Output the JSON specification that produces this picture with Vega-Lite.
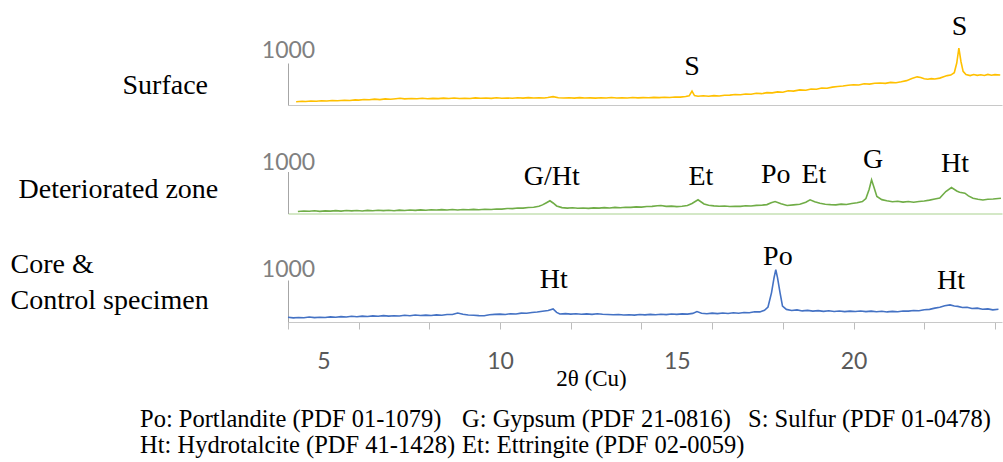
{
  "$schema": "https://vega.github.io/schema/vega-lite/v6.json",
  "background": "white",
  "padding": {"left": 10, "top": 12, "right": 0, "bottom": 0},
  "spacing": 66.5,
  "bounds": "flush",
  "config": {
    "view": {"stroke": null},
    "axis": {"grid": false, "labelFlush": false, "labelOverlap": false}
  },
  "datasets": {
    "xrd": [
      {"sample": "Surface", "two_theta": 4.23, "intensity": 79},
      {"sample": "Surface", "two_theta": 4.4, "intensity": 90},
      {"sample": "Surface", "two_theta": 4.5, "intensity": 84},
      {"sample": "Surface", "two_theta": 4.65, "intensity": 95},
      {"sample": "Surface", "two_theta": 4.8, "intensity": 90},
      {"sample": "Surface", "two_theta": 4.95, "intensity": 102},
      {"sample": "Surface", "two_theta": 5.1, "intensity": 96},
      {"sample": "Surface", "two_theta": 5.25, "intensity": 108},
      {"sample": "Surface", "two_theta": 5.4, "intensity": 100},
      {"sample": "Surface", "two_theta": 5.6, "intensity": 114},
      {"sample": "Surface", "two_theta": 5.75, "intensity": 108},
      {"sample": "Surface", "two_theta": 5.9, "intensity": 122},
      {"sample": "Surface", "two_theta": 6.0, "intensity": 116},
      {"sample": "Surface", "two_theta": 6.15, "intensity": 130},
      {"sample": "Surface", "two_theta": 6.3, "intensity": 124},
      {"sample": "Surface", "two_theta": 6.45, "intensity": 140},
      {"sample": "Surface", "two_theta": 6.6, "intensity": 129},
      {"sample": "Surface", "two_theta": 6.75, "intensity": 145},
      {"sample": "Surface", "two_theta": 6.9, "intensity": 138},
      {"sample": "Surface", "two_theta": 7.05, "intensity": 150},
      {"sample": "Surface", "two_theta": 7.17, "intensity": 160},
      {"sample": "Surface", "two_theta": 7.3, "intensity": 146},
      {"sample": "Surface", "two_theta": 7.5, "intensity": 155},
      {"sample": "Surface", "two_theta": 7.65, "intensity": 148},
      {"sample": "Surface", "two_theta": 7.8, "intensity": 160},
      {"sample": "Surface", "two_theta": 7.95, "intensity": 150},
      {"sample": "Surface", "two_theta": 8.1, "intensity": 158},
      {"sample": "Surface", "two_theta": 8.25, "intensity": 152},
      {"sample": "Surface", "two_theta": 8.4, "intensity": 164},
      {"sample": "Surface", "two_theta": 8.55, "intensity": 156},
      {"sample": "Surface", "two_theta": 8.7, "intensity": 168},
      {"sample": "Surface", "two_theta": 8.85, "intensity": 155},
      {"sample": "Surface", "two_theta": 9.0, "intensity": 162},
      {"sample": "Surface", "two_theta": 9.15, "intensity": 156},
      {"sample": "Surface", "two_theta": 9.3, "intensity": 170},
      {"sample": "Surface", "two_theta": 9.45, "intensity": 160},
      {"sample": "Surface", "two_theta": 9.6, "intensity": 166},
      {"sample": "Surface", "two_theta": 9.75, "intensity": 158},
      {"sample": "Surface", "two_theta": 9.9, "intensity": 172},
      {"sample": "Surface", "two_theta": 10.05, "intensity": 162},
      {"sample": "Surface", "two_theta": 10.2, "intensity": 168},
      {"sample": "Surface", "two_theta": 10.35, "intensity": 160},
      {"sample": "Surface", "two_theta": 10.5, "intensity": 172},
      {"sample": "Surface", "two_theta": 10.65, "intensity": 164},
      {"sample": "Surface", "two_theta": 10.8, "intensity": 175},
      {"sample": "Surface", "two_theta": 10.95, "intensity": 166},
      {"sample": "Surface", "two_theta": 11.1, "intensity": 172},
      {"sample": "Surface", "two_theta": 11.25, "intensity": 168},
      {"sample": "Surface", "two_theta": 11.35, "intensity": 178},
      {"sample": "Surface", "two_theta": 11.5, "intensity": 198},
      {"sample": "Surface", "two_theta": 11.65, "intensity": 174},
      {"sample": "Surface", "two_theta": 11.8, "intensity": 165},
      {"sample": "Surface", "two_theta": 11.95, "intensity": 172},
      {"sample": "Surface", "two_theta": 12.1, "intensity": 164},
      {"sample": "Surface", "two_theta": 12.25, "intensity": 175},
      {"sample": "Surface", "two_theta": 12.4, "intensity": 165},
      {"sample": "Surface", "two_theta": 12.55, "intensity": 170},
      {"sample": "Surface", "two_theta": 12.7, "intensity": 163},
      {"sample": "Surface", "two_theta": 12.85, "intensity": 172},
      {"sample": "Surface", "two_theta": 13.0, "intensity": 168},
      {"sample": "Surface", "two_theta": 13.15, "intensity": 178},
      {"sample": "Surface", "two_theta": 13.3, "intensity": 168},
      {"sample": "Surface", "two_theta": 13.45, "intensity": 174},
      {"sample": "Surface", "two_theta": 13.6, "intensity": 166},
      {"sample": "Surface", "two_theta": 13.75, "intensity": 178},
      {"sample": "Surface", "two_theta": 13.9, "intensity": 170},
      {"sample": "Surface", "two_theta": 14.05, "intensity": 176},
      {"sample": "Surface", "two_theta": 14.2, "intensity": 172},
      {"sample": "Surface", "two_theta": 14.35, "intensity": 182},
      {"sample": "Surface", "two_theta": 14.5, "intensity": 176},
      {"sample": "Surface", "two_theta": 14.65, "intensity": 186},
      {"sample": "Surface", "two_theta": 14.8, "intensity": 180},
      {"sample": "Surface", "two_theta": 14.95, "intensity": 192},
      {"sample": "Surface", "two_theta": 15.1, "intensity": 188},
      {"sample": "Surface", "two_theta": 15.25, "intensity": 204},
      {"sample": "Surface", "two_theta": 15.35, "intensity": 218},
      {"sample": "Surface", "two_theta": 15.43, "intensity": 330},
      {"sample": "Surface", "two_theta": 15.5, "intensity": 225},
      {"sample": "Surface", "two_theta": 15.6, "intensity": 210},
      {"sample": "Surface", "two_theta": 15.75, "intensity": 220},
      {"sample": "Surface", "two_theta": 15.9, "intensity": 210},
      {"sample": "Surface", "two_theta": 16.05, "intensity": 222},
      {"sample": "Surface", "two_theta": 16.2, "intensity": 215},
      {"sample": "Surface", "two_theta": 16.35, "intensity": 232},
      {"sample": "Surface", "two_theta": 16.5, "intensity": 236},
      {"sample": "Surface", "two_theta": 16.65, "intensity": 250},
      {"sample": "Surface", "two_theta": 16.8, "intensity": 244},
      {"sample": "Surface", "two_theta": 16.95, "intensity": 262},
      {"sample": "Surface", "two_theta": 17.1, "intensity": 256},
      {"sample": "Surface", "two_theta": 17.25, "intensity": 278},
      {"sample": "Surface", "two_theta": 17.4, "intensity": 270},
      {"sample": "Surface", "two_theta": 17.55, "intensity": 295},
      {"sample": "Surface", "two_theta": 17.7, "intensity": 288},
      {"sample": "Surface", "two_theta": 17.85, "intensity": 312},
      {"sample": "Surface", "two_theta": 18.0, "intensity": 305},
      {"sample": "Surface", "two_theta": 18.15, "intensity": 338},
      {"sample": "Surface", "two_theta": 18.3, "intensity": 330},
      {"sample": "Surface", "two_theta": 18.48, "intensity": 360},
      {"sample": "Surface", "two_theta": 18.65, "intensity": 352},
      {"sample": "Surface", "two_theta": 18.8, "intensity": 382},
      {"sample": "Surface", "two_theta": 18.95, "intensity": 375},
      {"sample": "Surface", "two_theta": 19.1, "intensity": 405},
      {"sample": "Surface", "two_theta": 19.25, "intensity": 398},
      {"sample": "Surface", "two_theta": 19.4, "intensity": 425},
      {"sample": "Surface", "two_theta": 19.55, "intensity": 440},
      {"sample": "Surface", "two_theta": 19.7, "intensity": 452},
      {"sample": "Surface", "two_theta": 19.85, "intensity": 470},
      {"sample": "Surface", "two_theta": 20.0, "intensity": 482},
      {"sample": "Surface", "two_theta": 20.15, "intensity": 476},
      {"sample": "Surface", "two_theta": 20.3, "intensity": 505},
      {"sample": "Surface", "two_theta": 20.45, "intensity": 498},
      {"sample": "Surface", "two_theta": 20.6, "intensity": 518},
      {"sample": "Surface", "two_theta": 20.75, "intensity": 524},
      {"sample": "Surface", "two_theta": 20.9, "intensity": 516},
      {"sample": "Surface", "two_theta": 21.05, "intensity": 538},
      {"sample": "Surface", "two_theta": 21.2, "intensity": 530},
      {"sample": "Surface", "two_theta": 21.35, "intensity": 552},
      {"sample": "Surface", "two_theta": 21.5, "intensity": 580},
      {"sample": "Surface", "two_theta": 21.65, "intensity": 630},
      {"sample": "Surface", "two_theta": 21.8, "intensity": 670},
      {"sample": "Surface", "two_theta": 21.9, "intensity": 655},
      {"sample": "Surface", "two_theta": 22.0, "intensity": 625},
      {"sample": "Surface", "two_theta": 22.1, "intensity": 612},
      {"sample": "Surface", "two_theta": 22.2, "intensity": 628},
      {"sample": "Surface", "two_theta": 22.3, "intensity": 618},
      {"sample": "Surface", "two_theta": 22.44, "intensity": 640},
      {"sample": "Surface", "two_theta": 22.55, "intensity": 675},
      {"sample": "Surface", "two_theta": 22.65, "intensity": 700},
      {"sample": "Surface", "two_theta": 22.75, "intensity": 712},
      {"sample": "Surface", "two_theta": 22.85, "intensity": 770},
      {"sample": "Surface", "two_theta": 22.92, "intensity": 1000},
      {"sample": "Surface", "two_theta": 22.98, "intensity": 1357},
      {"sample": "Surface", "two_theta": 23.04, "intensity": 1030},
      {"sample": "Surface", "two_theta": 23.1, "intensity": 800},
      {"sample": "Surface", "two_theta": 23.18, "intensity": 728},
      {"sample": "Surface", "two_theta": 23.3, "intensity": 700},
      {"sample": "Surface", "two_theta": 23.4, "intensity": 725},
      {"sample": "Surface", "two_theta": 23.5, "intensity": 705},
      {"sample": "Surface", "two_theta": 23.6, "intensity": 720},
      {"sample": "Surface", "two_theta": 23.7, "intensity": 702},
      {"sample": "Surface", "two_theta": 23.8, "intensity": 728},
      {"sample": "Surface", "two_theta": 23.9, "intensity": 708},
      {"sample": "Surface", "two_theta": 24.0, "intensity": 722},
      {"sample": "Surface", "two_theta": 24.15, "intensity": 714},

      {"sample": "Deteriorated", "two_theta": 4.28, "intensity": 48},
      {"sample": "Deteriorated", "two_theta": 4.45, "intensity": 60},
      {"sample": "Deteriorated", "two_theta": 4.6, "intensity": 52},
      {"sample": "Deteriorated", "two_theta": 4.75, "intensity": 64},
      {"sample": "Deteriorated", "two_theta": 4.9, "intensity": 50},
      {"sample": "Deteriorated", "two_theta": 5.05, "intensity": 62},
      {"sample": "Deteriorated", "two_theta": 5.2, "intensity": 56},
      {"sample": "Deteriorated", "two_theta": 5.35, "intensity": 68},
      {"sample": "Deteriorated", "two_theta": 5.5, "intensity": 56},
      {"sample": "Deteriorated", "two_theta": 5.65, "intensity": 70},
      {"sample": "Deteriorated", "two_theta": 5.8, "intensity": 62},
      {"sample": "Deteriorated", "two_theta": 5.95, "intensity": 72},
      {"sample": "Deteriorated", "two_theta": 6.1, "intensity": 60},
      {"sample": "Deteriorated", "two_theta": 6.25, "intensity": 74},
      {"sample": "Deteriorated", "two_theta": 6.4, "intensity": 66},
      {"sample": "Deteriorated", "two_theta": 6.55, "intensity": 78},
      {"sample": "Deteriorated", "two_theta": 6.7, "intensity": 68},
      {"sample": "Deteriorated", "two_theta": 6.85, "intensity": 76},
      {"sample": "Deteriorated", "two_theta": 7.0, "intensity": 66},
      {"sample": "Deteriorated", "two_theta": 7.15, "intensity": 80},
      {"sample": "Deteriorated", "two_theta": 7.3, "intensity": 72},
      {"sample": "Deteriorated", "two_theta": 7.45, "intensity": 84},
      {"sample": "Deteriorated", "two_theta": 7.6, "intensity": 75},
      {"sample": "Deteriorated", "two_theta": 7.75, "intensity": 86},
      {"sample": "Deteriorated", "two_theta": 7.9, "intensity": 78},
      {"sample": "Deteriorated", "two_theta": 8.05, "intensity": 90},
      {"sample": "Deteriorated", "two_theta": 8.2, "intensity": 82},
      {"sample": "Deteriorated", "two_theta": 8.35, "intensity": 92},
      {"sample": "Deteriorated", "two_theta": 8.5, "intensity": 84},
      {"sample": "Deteriorated", "two_theta": 8.65, "intensity": 95},
      {"sample": "Deteriorated", "two_theta": 8.8, "intensity": 84},
      {"sample": "Deteriorated", "two_theta": 8.95, "intensity": 96},
      {"sample": "Deteriorated", "two_theta": 9.1, "intensity": 88},
      {"sample": "Deteriorated", "two_theta": 9.25, "intensity": 98},
      {"sample": "Deteriorated", "two_theta": 9.4, "intensity": 90},
      {"sample": "Deteriorated", "two_theta": 9.57, "intensity": 100},
      {"sample": "Deteriorated", "two_theta": 9.75, "intensity": 96},
      {"sample": "Deteriorated", "two_theta": 9.9, "intensity": 108},
      {"sample": "Deteriorated", "two_theta": 10.05, "intensity": 104},
      {"sample": "Deteriorated", "two_theta": 10.2, "intensity": 120},
      {"sample": "Deteriorated", "two_theta": 10.35, "intensity": 116},
      {"sample": "Deteriorated", "two_theta": 10.5, "intensity": 132},
      {"sample": "Deteriorated", "two_theta": 10.65, "intensity": 128},
      {"sample": "Deteriorated", "two_theta": 10.8, "intensity": 142},
      {"sample": "Deteriorated", "two_theta": 10.95, "intensity": 150},
      {"sample": "Deteriorated", "two_theta": 11.1, "intensity": 172},
      {"sample": "Deteriorated", "two_theta": 11.2, "intensity": 205},
      {"sample": "Deteriorated", "two_theta": 11.3, "intensity": 250},
      {"sample": "Deteriorated", "two_theta": 11.41, "intensity": 302},
      {"sample": "Deteriorated", "two_theta": 11.5, "intensity": 250},
      {"sample": "Deteriorated", "two_theta": 11.6, "intensity": 180},
      {"sample": "Deteriorated", "two_theta": 11.75, "intensity": 140},
      {"sample": "Deteriorated", "two_theta": 11.9, "intensity": 128},
      {"sample": "Deteriorated", "two_theta": 12.05, "intensity": 138},
      {"sample": "Deteriorated", "two_theta": 12.2, "intensity": 124},
      {"sample": "Deteriorated", "two_theta": 12.35, "intensity": 132},
      {"sample": "Deteriorated", "two_theta": 12.5, "intensity": 122},
      {"sample": "Deteriorated", "two_theta": 12.65, "intensity": 135},
      {"sample": "Deteriorated", "two_theta": 12.8, "intensity": 128},
      {"sample": "Deteriorated", "two_theta": 12.95, "intensity": 140},
      {"sample": "Deteriorated", "two_theta": 13.1, "intensity": 132},
      {"sample": "Deteriorated", "two_theta": 13.25, "intensity": 145},
      {"sample": "Deteriorated", "two_theta": 13.4, "intensity": 138},
      {"sample": "Deteriorated", "two_theta": 13.55, "intensity": 150},
      {"sample": "Deteriorated", "two_theta": 13.7, "intensity": 145},
      {"sample": "Deteriorated", "two_theta": 13.85, "intensity": 158},
      {"sample": "Deteriorated", "two_theta": 14.0, "intensity": 152},
      {"sample": "Deteriorated", "two_theta": 14.15, "intensity": 165},
      {"sample": "Deteriorated", "two_theta": 14.3, "intensity": 170},
      {"sample": "Deteriorated", "two_theta": 14.45, "intensity": 185},
      {"sample": "Deteriorated", "two_theta": 14.55, "intensity": 192},
      {"sample": "Deteriorated", "two_theta": 14.7, "intensity": 170},
      {"sample": "Deteriorated", "two_theta": 14.85, "intensity": 176},
      {"sample": "Deteriorated", "two_theta": 15.0, "intensity": 164},
      {"sample": "Deteriorated", "two_theta": 15.15, "intensity": 172},
      {"sample": "Deteriorated", "two_theta": 15.3, "intensity": 190},
      {"sample": "Deteriorated", "two_theta": 15.43, "intensity": 238},
      {"sample": "Deteriorated", "two_theta": 15.6, "intensity": 326},
      {"sample": "Deteriorated", "two_theta": 15.77, "intensity": 226},
      {"sample": "Deteriorated", "two_theta": 15.9, "intensity": 195},
      {"sample": "Deteriorated", "two_theta": 16.05, "intensity": 182},
      {"sample": "Deteriorated", "two_theta": 16.2, "intensity": 174},
      {"sample": "Deteriorated", "two_theta": 16.35, "intensity": 180},
      {"sample": "Deteriorated", "two_theta": 16.5, "intensity": 166},
      {"sample": "Deteriorated", "two_theta": 16.65, "intensity": 174},
      {"sample": "Deteriorated", "two_theta": 16.8, "intensity": 170},
      {"sample": "Deteriorated", "two_theta": 16.95, "intensity": 184},
      {"sample": "Deteriorated", "two_theta": 17.1, "intensity": 180},
      {"sample": "Deteriorated", "two_theta": 17.25, "intensity": 194},
      {"sample": "Deteriorated", "two_theta": 17.4, "intensity": 198},
      {"sample": "Deteriorated", "two_theta": 17.55, "intensity": 212},
      {"sample": "Deteriorated", "two_theta": 17.67, "intensity": 255},
      {"sample": "Deteriorated", "two_theta": 17.78, "intensity": 286},
      {"sample": "Deteriorated", "two_theta": 17.95, "intensity": 232},
      {"sample": "Deteriorated", "two_theta": 18.12, "intensity": 190},
      {"sample": "Deteriorated", "two_theta": 18.3, "intensity": 205},
      {"sample": "Deteriorated", "two_theta": 18.48, "intensity": 222},
      {"sample": "Deteriorated", "two_theta": 18.65, "intensity": 270},
      {"sample": "Deteriorated", "two_theta": 18.77, "intensity": 326},
      {"sample": "Deteriorated", "two_theta": 18.9, "intensity": 282},
      {"sample": "Deteriorated", "two_theta": 19.05, "intensity": 245},
      {"sample": "Deteriorated", "two_theta": 19.2, "intensity": 222},
      {"sample": "Deteriorated", "two_theta": 19.35, "intensity": 212},
      {"sample": "Deteriorated", "two_theta": 19.5, "intensity": 205},
      {"sample": "Deteriorated", "two_theta": 19.65, "intensity": 222},
      {"sample": "Deteriorated", "two_theta": 19.8, "intensity": 215},
      {"sample": "Deteriorated", "two_theta": 19.95, "intensity": 240},
      {"sample": "Deteriorated", "two_theta": 20.1, "intensity": 255},
      {"sample": "Deteriorated", "two_theta": 20.25, "intensity": 285},
      {"sample": "Deteriorated", "two_theta": 20.35, "intensity": 357},
      {"sample": "Deteriorated", "two_theta": 20.44, "intensity": 571},
      {"sample": "Deteriorated", "two_theta": 20.51, "intensity": 802},
      {"sample": "Deteriorated", "two_theta": 20.58, "intensity": 619},
      {"sample": "Deteriorated", "two_theta": 20.66, "intensity": 405},
      {"sample": "Deteriorated", "two_theta": 20.8, "intensity": 330},
      {"sample": "Deteriorated", "two_theta": 20.94, "intensity": 302},
      {"sample": "Deteriorated", "two_theta": 21.1, "intensity": 280},
      {"sample": "Deteriorated", "two_theta": 21.25, "intensity": 292},
      {"sample": "Deteriorated", "two_theta": 21.4, "intensity": 272},
      {"sample": "Deteriorated", "two_theta": 21.55, "intensity": 286},
      {"sample": "Deteriorated", "two_theta": 21.7, "intensity": 268},
      {"sample": "Deteriorated", "two_theta": 21.85, "intensity": 284},
      {"sample": "Deteriorated", "two_theta": 22.0, "intensity": 296},
      {"sample": "Deteriorated", "two_theta": 22.15, "intensity": 318},
      {"sample": "Deteriorated", "two_theta": 22.3, "intensity": 345},
      {"sample": "Deteriorated", "two_theta": 22.44, "intensity": 370},
      {"sample": "Deteriorated", "two_theta": 22.61, "intensity": 524},
      {"sample": "Deteriorated", "two_theta": 22.77, "intensity": 619},
      {"sample": "Deteriorated", "two_theta": 22.92, "intensity": 536},
      {"sample": "Deteriorated", "two_theta": 23.0, "intensity": 507},
      {"sample": "Deteriorated", "two_theta": 23.15, "intensity": 483},
      {"sample": "Deteriorated", "two_theta": 23.25, "intensity": 420},
      {"sample": "Deteriorated", "two_theta": 23.38, "intensity": 364},
      {"sample": "Deteriorated", "two_theta": 23.52, "intensity": 340},
      {"sample": "Deteriorated", "two_theta": 23.66, "intensity": 322},
      {"sample": "Deteriorated", "two_theta": 23.8, "intensity": 338},
      {"sample": "Deteriorated", "two_theta": 23.95, "intensity": 346},
      {"sample": "Deteriorated", "two_theta": 24.17, "intensity": 364},

      {"sample": "Core", "two_theta": 4.0, "intensity": 112},
      {"sample": "Core", "two_theta": 4.15, "intensity": 98},
      {"sample": "Core", "two_theta": 4.3, "intensity": 108},
      {"sample": "Core", "two_theta": 4.45, "intensity": 100},
      {"sample": "Core", "two_theta": 4.6, "intensity": 118},
      {"sample": "Core", "two_theta": 4.75, "intensity": 104},
      {"sample": "Core", "two_theta": 4.9, "intensity": 114},
      {"sample": "Core", "two_theta": 5.05, "intensity": 108},
      {"sample": "Core", "two_theta": 5.2, "intensity": 122},
      {"sample": "Core", "two_theta": 5.35, "intensity": 112},
      {"sample": "Core", "two_theta": 5.5, "intensity": 128},
      {"sample": "Core", "two_theta": 5.65, "intensity": 118},
      {"sample": "Core", "two_theta": 5.8, "intensity": 138},
      {"sample": "Core", "two_theta": 5.95, "intensity": 126},
      {"sample": "Core", "two_theta": 6.1, "intensity": 140},
      {"sample": "Core", "two_theta": 6.25, "intensity": 132},
      {"sample": "Core", "two_theta": 6.4, "intensity": 146},
      {"sample": "Core", "two_theta": 6.55, "intensity": 138},
      {"sample": "Core", "two_theta": 6.7, "intensity": 152},
      {"sample": "Core", "two_theta": 6.85, "intensity": 140},
      {"sample": "Core", "two_theta": 7.0, "intensity": 150},
      {"sample": "Core", "two_theta": 7.15, "intensity": 144},
      {"sample": "Core", "two_theta": 7.3, "intensity": 160},
      {"sample": "Core", "two_theta": 7.45, "intensity": 150},
      {"sample": "Core", "two_theta": 7.6, "intensity": 168},
      {"sample": "Core", "two_theta": 7.75, "intensity": 156},
      {"sample": "Core", "two_theta": 7.9, "intensity": 164},
      {"sample": "Core", "two_theta": 8.05, "intensity": 155},
      {"sample": "Core", "two_theta": 8.2, "intensity": 170},
      {"sample": "Core", "two_theta": 8.35, "intensity": 162},
      {"sample": "Core", "two_theta": 8.5, "intensity": 178},
      {"sample": "Core", "two_theta": 8.65, "intensity": 180},
      {"sample": "Core", "two_theta": 8.8, "intensity": 214},
      {"sample": "Core", "two_theta": 8.95, "intensity": 185},
      {"sample": "Core", "two_theta": 9.1, "intensity": 168},
      {"sample": "Core", "two_theta": 9.25, "intensity": 160},
      {"sample": "Core", "two_theta": 9.4, "intensity": 152},
      {"sample": "Core", "two_theta": 9.55, "intensity": 148},
      {"sample": "Core", "two_theta": 9.7, "intensity": 172},
      {"sample": "Core", "two_theta": 9.85, "intensity": 182},
      {"sample": "Core", "two_theta": 10.0, "intensity": 188},
      {"sample": "Core", "two_theta": 10.15, "intensity": 180},
      {"sample": "Core", "two_theta": 10.3, "intensity": 198},
      {"sample": "Core", "two_theta": 10.45, "intensity": 192},
      {"sample": "Core", "two_theta": 10.6, "intensity": 212},
      {"sample": "Core", "two_theta": 10.75, "intensity": 208},
      {"sample": "Core", "two_theta": 10.9, "intensity": 228},
      {"sample": "Core", "two_theta": 11.05, "intensity": 238},
      {"sample": "Core", "two_theta": 11.2, "intensity": 255},
      {"sample": "Core", "two_theta": 11.36, "intensity": 274},
      {"sample": "Core", "two_theta": 11.5, "intensity": 312},
      {"sample": "Core", "two_theta": 11.6, "intensity": 230},
      {"sample": "Core", "two_theta": 11.69, "intensity": 190},
      {"sample": "Core", "two_theta": 11.85, "intensity": 200},
      {"sample": "Core", "two_theta": 12.0, "intensity": 188},
      {"sample": "Core", "two_theta": 12.15, "intensity": 198},
      {"sample": "Core", "two_theta": 12.3, "intensity": 186},
      {"sample": "Core", "two_theta": 12.45, "intensity": 194},
      {"sample": "Core", "two_theta": 12.6, "intensity": 182},
      {"sample": "Core", "two_theta": 12.75, "intensity": 195},
      {"sample": "Core", "two_theta": 12.9, "intensity": 186},
      {"sample": "Core", "two_theta": 13.05, "intensity": 180},
      {"sample": "Core", "two_theta": 13.2, "intensity": 172},
      {"sample": "Core", "two_theta": 13.35, "intensity": 180},
      {"sample": "Core", "two_theta": 13.5, "intensity": 166},
      {"sample": "Core", "two_theta": 13.65, "intensity": 174},
      {"sample": "Core", "two_theta": 13.8, "intensity": 164},
      {"sample": "Core", "two_theta": 13.95, "intensity": 178},
      {"sample": "Core", "two_theta": 14.1, "intensity": 170},
      {"sample": "Core", "two_theta": 14.25, "intensity": 182},
      {"sample": "Core", "two_theta": 14.4, "intensity": 174},
      {"sample": "Core", "two_theta": 14.55, "intensity": 186},
      {"sample": "Core", "two_theta": 14.7, "intensity": 176},
      {"sample": "Core", "two_theta": 14.85, "intensity": 190},
      {"sample": "Core", "two_theta": 15.0, "intensity": 182},
      {"sample": "Core", "two_theta": 15.15, "intensity": 194},
      {"sample": "Core", "two_theta": 15.3, "intensity": 188},
      {"sample": "Core", "two_theta": 15.45, "intensity": 205},
      {"sample": "Core", "two_theta": 15.57, "intensity": 248},
      {"sample": "Core", "two_theta": 15.7, "intensity": 210},
      {"sample": "Core", "two_theta": 15.85, "intensity": 196},
      {"sample": "Core", "two_theta": 16.0, "intensity": 212},
      {"sample": "Core", "two_theta": 16.15, "intensity": 200},
      {"sample": "Core", "two_theta": 16.3, "intensity": 214},
      {"sample": "Core", "two_theta": 16.45, "intensity": 204},
      {"sample": "Core", "two_theta": 16.6, "intensity": 220},
      {"sample": "Core", "two_theta": 16.75, "intensity": 210},
      {"sample": "Core", "two_theta": 16.9, "intensity": 226},
      {"sample": "Core", "two_theta": 17.05, "intensity": 220},
      {"sample": "Core", "two_theta": 17.2, "intensity": 245},
      {"sample": "Core", "two_theta": 17.35, "intensity": 240},
      {"sample": "Core", "two_theta": 17.48, "intensity": 280},
      {"sample": "Core", "two_theta": 17.58, "intensity": 357},
      {"sample": "Core", "two_theta": 17.68, "intensity": 700},
      {"sample": "Core", "two_theta": 17.75, "intensity": 1050},
      {"sample": "Core", "two_theta": 17.8, "intensity": 1245},
      {"sample": "Core", "two_theta": 17.85, "intensity": 1050},
      {"sample": "Core", "two_theta": 17.92, "intensity": 700},
      {"sample": "Core", "two_theta": 17.99, "intensity": 380},
      {"sample": "Core", "two_theta": 18.1, "intensity": 300},
      {"sample": "Core", "two_theta": 18.25, "intensity": 275},
      {"sample": "Core", "two_theta": 18.4, "intensity": 288},
      {"sample": "Core", "two_theta": 18.55, "intensity": 264},
      {"sample": "Core", "two_theta": 18.7, "intensity": 276},
      {"sample": "Core", "two_theta": 18.85, "intensity": 258},
      {"sample": "Core", "two_theta": 19.0, "intensity": 270},
      {"sample": "Core", "two_theta": 19.15, "intensity": 254},
      {"sample": "Core", "two_theta": 19.3, "intensity": 266},
      {"sample": "Core", "two_theta": 19.45, "intensity": 250},
      {"sample": "Core", "two_theta": 19.6, "intensity": 262},
      {"sample": "Core", "two_theta": 19.75, "intensity": 248},
      {"sample": "Core", "two_theta": 19.9, "intensity": 260},
      {"sample": "Core", "two_theta": 20.05, "intensity": 250},
      {"sample": "Core", "two_theta": 20.2, "intensity": 262},
      {"sample": "Core", "two_theta": 20.35, "intensity": 246},
      {"sample": "Core", "two_theta": 20.5, "intensity": 258},
      {"sample": "Core", "two_theta": 20.65, "intensity": 244},
      {"sample": "Core", "two_theta": 20.8, "intensity": 256},
      {"sample": "Core", "two_theta": 20.95, "intensity": 240},
      {"sample": "Core", "two_theta": 21.1, "intensity": 252},
      {"sample": "Core", "two_theta": 21.25, "intensity": 244},
      {"sample": "Core", "two_theta": 21.4, "intensity": 262},
      {"sample": "Core", "two_theta": 21.55, "intensity": 258},
      {"sample": "Core", "two_theta": 21.7, "intensity": 272},
      {"sample": "Core", "two_theta": 21.85, "intensity": 268},
      {"sample": "Core", "two_theta": 22.0, "intensity": 290},
      {"sample": "Core", "two_theta": 22.15, "intensity": 300},
      {"sample": "Core", "two_theta": 22.3, "intensity": 330},
      {"sample": "Core", "two_theta": 22.44, "intensity": 352},
      {"sample": "Core", "two_theta": 22.58, "intensity": 385},
      {"sample": "Core", "two_theta": 22.73, "intensity": 408},
      {"sample": "Core", "two_theta": 22.85, "intensity": 380},
      {"sample": "Core", "two_theta": 22.95, "intensity": 372},
      {"sample": "Core", "two_theta": 23.08, "intensity": 345},
      {"sample": "Core", "two_theta": 23.21, "intensity": 352},
      {"sample": "Core", "two_theta": 23.35, "intensity": 322},
      {"sample": "Core", "two_theta": 23.5, "intensity": 330},
      {"sample": "Core", "two_theta": 23.65, "intensity": 305},
      {"sample": "Core", "two_theta": 23.8, "intensity": 312},
      {"sample": "Core", "two_theta": 23.94, "intensity": 290},
      {"sample": "Core", "two_theta": 24.1, "intensity": 302}
    ],
    "peaks": [
      {"sample": "Surface", "label": "S", "two_theta": 15.43, "intensity": 714},
      {"sample": "Surface", "label": "S", "two_theta": 23.0, "intensity": 1667},
      {"sample": "Deteriorated", "label": "G/Ht", "two_theta": 11.46, "intensity": 690},
      {"sample": "Deteriorated", "label": "Et", "two_theta": 15.68, "intensity": 690},
      {"sample": "Deteriorated", "label": "Po", "two_theta": 17.8, "intensity": 721},
      {"sample": "Deteriorated", "label": "Et", "two_theta": 18.88, "intensity": 721},
      {"sample": "Deteriorated", "label": "G", "two_theta": 20.55, "intensity": 1079},
      {"sample": "Deteriorated", "label": "Ht", "two_theta": 22.87, "intensity": 1000},
      {"sample": "Core", "label": "Ht", "two_theta": 11.52, "intensity": 810},
      {"sample": "Core", "label": "Po", "two_theta": 17.86, "intensity": 1357},
      {"sample": "Core", "label": "Ht", "two_theta": 22.76, "intensity": 786}
    ],
    "legend": [
      {"row": 1, "col": 1, "entry": "Po: Portlandite (PDF 01-1079)"},
      {"row": 1, "col": 2, "entry": "G: Gypsum (PDF 21-0816)"},
      {"row": 1, "col": 3, "entry": "S: Sulfur (PDF 01-0478)"},
      {"row": 2, "col": 1, "entry": "Ht: Hydrotalcite (PDF 41-1428)"},
      {"row": 2, "col": 2, "entry": "Et: Ettringite (PDF 02-0059)"}
    ]
  },
  "vconcat": [
    {
      "width": 714,
      "height": 42,
      "layer": [
        {
          "data": {"name": "xrd"},
          "transform": [{"filter": "datum.sample === 'Surface'"}],
          "mark": {"type": "line", "color": "#FFC000", "strokeWidth": 1.6},
          "encoding": {
            "x": {"field": "two_theta", "type": "quantitative",
              "scale": {"domain": [4, 24.2], "nice": false, "zero": false},
              "axis": {"labels": false, "ticks": false, "title": null, "domainColor": "#c8c8c8"}},
            "y": {"field": "intensity", "type": "quantitative",
              "scale": {"domain": [0, 1000], "nice": false},
              "axis": {"values": [1000], "format": "d", "ticks": true, "tickSize": 0, "labelPadding": 0,
                "labelFlush": false, "labelOverlap": false,
                "labelAlign": "center", "labelBaseline": "alphabetic", "labelOffset": -6,
                "labelFont": "Lato", "labelFontSize": 23, "labelColor": "#808080", "domainColor": "#a6a6a6",
                "title": "Surface", "titleAngle": 0, "titleAlign": "left", "titleBaseline": "alphabetic",
                "titleX": -166, "titleY": 30, "titleFont": "Liberation Serif", "titleFontSize": 28,
                "titleFontWeight": "normal", "titleColor": "#000000"}}
          }
        },
        {
          "data": {"name": "peaks"},
          "transform": [{"filter": "datum.sample === 'Surface'"}],
          "mark": {"type": "text", "font": "Liberation Serif", "fontSize": 28, "align": "center", "baseline": "alphabetic", "color": "#000000"},
          "encoding": {
            "x": {"field": "two_theta", "type": "quantitative"},
            "y": {"field": "intensity", "type": "quantitative"},
            "text": {"field": "label"}
          }
        }
      ]
    },
    {
      "width": 714,
      "height": 42,
      "layer": [
        {
          "data": {"name": "xrd"},
          "transform": [{"filter": "datum.sample === 'Deteriorated'"}],
          "mark": {"type": "line", "color": "#70AD47", "strokeWidth": 1.6},
          "encoding": {
            "x": {"field": "two_theta", "type": "quantitative",
              "scale": {"domain": [4, 24.2], "nice": false, "zero": false},
              "axis": {"labels": false, "ticks": false, "title": null, "domainColor": "#a9d18e"}},
            "y": {"field": "intensity", "type": "quantitative",
              "scale": {"domain": [0, 1000], "nice": false},
              "axis": {"values": [1000], "format": "d", "ticks": true, "tickSize": 0, "labelPadding": 0,
                "labelFlush": false, "labelOverlap": false,
                "labelAlign": "center", "labelBaseline": "alphabetic", "labelOffset": -2.5,
                "labelFont": "Lato", "labelFontSize": 23, "labelColor": "#808080", "domainColor": "#a6a6a6",
                "title": "Deteriorated zone", "titleAngle": 0, "titleAlign": "left", "titleBaseline": "alphabetic",
                "titleX": -270, "titleY": 26, "titleFont": "Liberation Serif", "titleFontSize": 28,
                "titleFontWeight": "normal", "titleColor": "#000000"}}
          }
        },
        {
          "data": {"name": "peaks"},
          "transform": [{"filter": "datum.sample === 'Deteriorated'"}],
          "mark": {"type": "text", "font": "Liberation Serif", "fontSize": 28, "align": "center", "baseline": "alphabetic", "color": "#000000"},
          "encoding": {
            "x": {"field": "two_theta", "type": "quantitative"},
            "y": {"field": "intensity", "type": "quantitative"},
            "text": {"field": "label"}
          }
        }
      ]
    },
    {
      "width": 714,
      "height": 42,
      "layer": [
        {
          "data": {"name": "xrd"},
          "transform": [{"filter": "datum.sample === 'Core'"}],
          "mark": {"type": "line", "color": "#4472C4", "strokeWidth": 1.6},
          "encoding": {
            "x": {"field": "two_theta", "type": "quantitative",
              "scale": {"domain": [4, 24.2], "nice": false, "zero": false},
              "axis": {"values": [4,5,6,7,8,9,10,11,12,13,14,15,16,17,18,19,20,21,22,23,24],
                "labels": false, "ticks": true, "tickSize": 7, "tickColor": "#bdbdbd", "domainColor": "#c8c8c8",
                "title": null}},
            "y": {"field": "intensity", "type": "quantitative",
              "scale": {"domain": [0, 1000], "nice": false},
              "axis": {"values": [1000], "format": "d", "ticks": true, "tickSize": 0, "labelPadding": 0,
                "labelFlush": false, "labelOverlap": false,
                "labelAlign": "center", "labelBaseline": "alphabetic", "labelOffset": -3.3,
                "labelFont": "Lato", "labelFontSize": 23, "labelColor": "#808080", "domainColor": "#a6a6a6",
                "title": ["Core &", "Control specimen"], "titleAngle": 0, "titleAlign": "left", "titleBaseline": "alphabetic",
                "titleX": -278, "titleY": -8, "titleLineHeight": 36, "titleFont": "Liberation Serif", "titleFontSize": 28,
                "titleFontWeight": "normal", "titleColor": "#000000"}}
          }
        },
        {
          "data": {"name": "peaks"},
          "transform": [{"filter": "datum.sample === 'Core'"}],
          "mark": {"type": "text", "font": "Liberation Serif", "fontSize": 28, "align": "center", "baseline": "alphabetic", "color": "#000000"},
          "encoding": {
            "x": {"field": "two_theta", "type": "quantitative"},
            "y": {"field": "intensity", "type": "quantitative"},
            "text": {"field": "label"}
          }
        }
      ]
    },
    {
      "width": 714,
      "height": 70,
      "resolve": {"scale": {"x": "independent"}, "axis": {"x": "independent"}},
      "layer": [
        {
          "data": {"name": "legend"},
          "mark": {"type": "text", "font": "Liberation Serif", "fontSize": 24.5, "align": "left", "baseline": "alphabetic", "color": "#000000"},
          "encoding": {
            "x": {"field": "col", "type": "quantitative",
              "scale": {"domain": [1, 2, 3], "range": [-148, 174, 460], "nice": false, "zero": false}, "axis": null},
            "y": {"field": "row", "type": "quantitative",
              "scale": {"domain": [-0.5, 2.2], "reverse": true, "nice": false, "zero": false}, "axis": null},
            "text": {"field": "entry"}
          }
        },
        {
          "data": {"name": "peaks"},
          "transform": [{"filter": "datum.sample === 'Core'"}],
          "mark": {"type": "text", "opacity": 0, "fontSize": 1},
          "encoding": {
            "x": {"field": "two_theta", "type": "quantitative",
              "scale": {"domain": [4, 24.2], "nice": false, "zero": false},
              "axis": {"orient": "top", "values": [5, 10, 15, 20], "format": "d",
                "labelFlush": false, "labelOverlap": false, "domain": false,
                "ticks": true, "tickSize": 7, "tickOpacity": 0,
                "labelFont": "Lato", "labelFontSize": 23, "labelColor": "#595959",
                "labelBaseline": "alphabetic", "labelPadding": 13.5,
                "title": "2θ (Cu)", "titleFont": "Liberation Serif", "titleFontSize": 23,
                "titleFontWeight": "normal", "titleColor": "#000000",
                "titleX": 303, "titleY": -3.5, "titleAlign": "center", "titleBaseline": "alphabetic"}},
            "text": {"field": "label"}
          }
        }
      ]
    }
  ]
}
